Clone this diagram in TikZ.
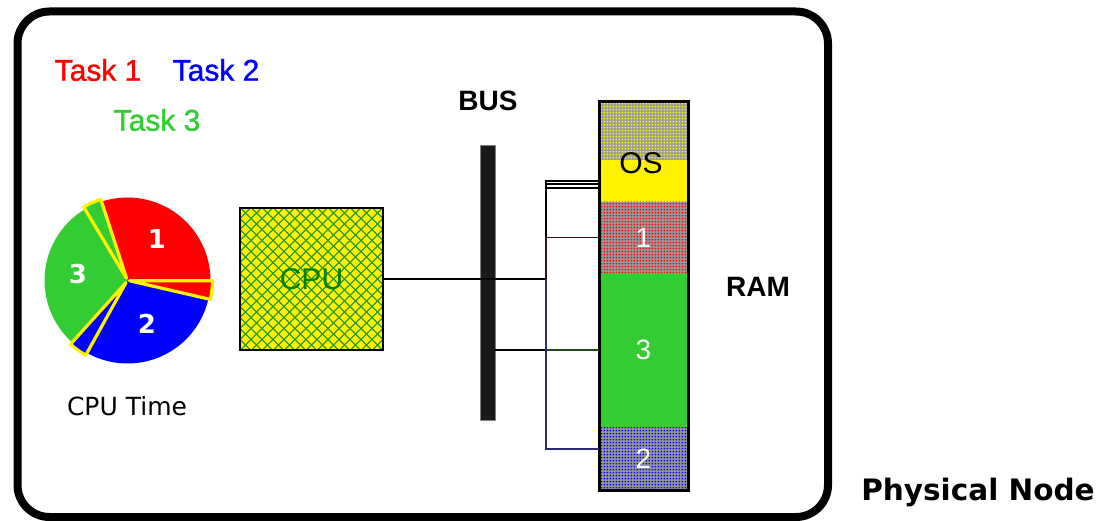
\documentclass[tikz,border=0pt]{standalone}
\usepackage{fontspec}
\setmainfont{Liberation Sans}
\newfontfamily\verdanalike{DejaVu Sans}
\newfontfamily\heavyarial{Liberation Sans}[FakeBold=1.2]
\usetikzlibrary{patterns}

\definecolor{taskred}{HTML}{FF0000}
\definecolor{taskblue}{HTML}{0000FF}
\definecolor{taskgreen}{HTML}{33CC33}
\definecolor{cpugreen}{HTML}{008000}
\definecolor{hatchgreen}{HTML}{2E9A2E}
\definecolor{busgray}{HTML}{1A1A1A}
\definecolor{dotbase}{HTML}{9A9A9A}
\definecolor{wirenavy}{HTML}{2A2A70}
\definecolor{wiregreen}{HTML}{1E4A1E}
\definecolor{wirered}{HTML}{3A1010}

% small square dots for the memory regions
\pgfdeclarepatternformonly{ramdots}{\pgfqpoint{0pt}{0pt}}{\pgfqpoint{3.3pt}{3.3pt}}{\pgfqpoint{3.3pt}{3.3pt}}{%
  \pgfpathrectangle{\pgfqpoint{0.85pt}{0.85pt}}{\pgfqpoint{1.6pt}{1.6pt}}\pgfusepath{fill}}

\tikzset{
  big/.style={font=\fontsize{30}{32}\selectfont, inner sep=0pt},
  tasklabel/.style={font=\heavyarial\fontsize{30}{32}\selectfont, inner sep=0pt},
  bigbold/.style={font=\fontsize{28}{30}\selectfont\bfseries, inner sep=0pt},
  pienum/.style={font=\verdanalike\fontsize{26}{28}\selectfont\bfseries, text=white, inner sep=0pt},
  ramseg/.style={anchor=north west, minimum width=89, inner sep=0pt, outer sep=0pt, draw=none,
    font=\fontsize{28}{30}\selectfont, text=white},
  wire/.style={line width=1.3pt, draw=black},
  slice/.style={draw=yellow, line width=3.2pt, line join=round},
  % diagonal cross hatching, 11pt apart
  crosshatch/.style={path picture={
    \foreach \k in {-14,...,14}{
      \draw[hatchgreen, line width=1.4pt]
        ([xshift=\k*11pt-90pt, yshift=-90pt]path picture bounding box.center) -- ++(180pt,180pt);
      \draw[hatchgreen, line width=1.4pt]
        ([xshift=\k*11pt-90pt, yshift=90pt]path picture bounding box.center) -- ++(180pt,-180pt);
    }}},
}

\begin{document}
\begin{tikzpicture}[x=1pt, y=-1pt]
\useasboundingbox (0,0) rectangle (1100,521);

% node frame
\node[draw=black, line width=8pt, rounded corners=32pt, minimum width=810.5, minimum height=505.5, inner sep=0pt]
  (frame) at (422.75,264.25) {};

% legend
\node[tasklabel, text=taskred]   (t1) at (98,70)   {Task 1};
\node[tasklabel, text=taskblue]  (t2) at (216,70)  {Task 2};
\node[tasklabel, text=taskgreen] (t3) at (157,120) {Task 3};

% CPU time pie
\begin{scope}[shift={(127.5,280.5)}]
  \fill[taskred]   (0,0) -- (0:83pt)   arc[start angle=0,   end angle=108, radius=83pt] -- cycle;
  \fill[taskgreen] (0,0) -- (121:83pt) arc[start angle=121, end angle=228, radius=83pt] -- cycle;
  \fill[taskblue]  (0,0) -- (241:83pt) arc[start angle=241, end angle=347, radius=83pt] -- cycle;
  \begin{scope}[shift={(114.5:2.5pt)}]
    \filldraw[slice, fill=taskgreen] (0,0) -- (108:83pt) arc[start angle=108, end angle=121, radius=83pt] -- cycle;
  \end{scope}
  \begin{scope}[shift={(234.5:2.5pt)}]
    \filldraw[slice, fill=taskblue] (0,0) -- (228:83pt) arc[start angle=228, end angle=241, radius=83pt] -- cycle;
  \end{scope}
  \begin{scope}[shift={(353.5:2pt)}]
    \filldraw[slice, fill=taskred] (0,0) -- (347:83pt) arc[start angle=347, end angle=360, radius=83pt] -- cycle;
  \end{scope}
\end{scope}
\node[pienum] (p1) at (157,239) {1};
\node[pienum] (p3) at (78,274)  {3};
\node[pienum] (p2) at (147,324) {2};
\node[font=\verdanalike\fontsize{25}{27}\selectfont, inner sep=0pt] (cputime) at (127,406) {CPU Time};

% processor
\node[fill=yellow, crosshatch, draw=black, line width=2pt, minimum width=143, minimum height=142, inner sep=0pt,
  text=cpugreen, font=\fontsize{30}{32}\selectfont] (cpu) at (311.5,279) {CPU};

% bus
\node[bigbold] (buslabel) at (488,101) {BUS};
\node[fill=busgray, draw=gray, line width=0.6pt, minimum width=15, minimum height=275, inner sep=0pt]
  (bus) at (487.5,282.5) {};

% memory
\node[ramseg, minimum height=58, preaction={fill=dotbase}, pattern=ramdots, pattern color=yellow]
  (ramos) at (599,102) {};
\node[ramseg, minimum height=42, fill=yellow] (ramosy) at (599,160) {};
\node[ramseg, minimum height=71, preaction={fill=dotbase}, pattern=ramdots, pattern color=red]
  (ram1) at (599,202) {1};
\node[ramseg, minimum height=154, fill=taskgreen] (ram3) at (599,273) {3};
\node[ramseg, minimum height=63, preaction={fill=dotbase}, pattern=ramdots, pattern color=blue]
  (ram2) at (599,427) {2};
\draw[line width=3pt] (ramos.north west) rectangle (ram2.south east);
\node[big] (oslabel) at (641,163) {OS};
\node[bigbold] (ramlabel) at (758,287) {RAM};

% wiring
\coordinate (hub) at (546,279);
\draw[line width=2pt] (cpu.east) -- (hub);
\draw[wire] (hub) |- (ramosy.west);
\draw[wire] (hub) |- ([yshift=-3pt]ramosy.west);
\draw[wire] (hub) |- ([yshift=-7pt]ramosy.west);
\draw[wire, draw=wirered] (hub) |- (ram1.west);
\draw[wire] (bus.east |- ram3.west) -- (ram3.west);
\draw[wire, draw=wiregreen] (hub) |- (ram3.west);
\draw[wire, draw=wirenavy] (hub) |- ([yshift=9.5pt]ram2.west);

% caption
\node[font=\verdanalike\fontsize{29.5}{31}\selectfont\bfseries, inner sep=0pt] (caption) at (978,492) {Physical Node};
\end{tikzpicture}
\end{document}
